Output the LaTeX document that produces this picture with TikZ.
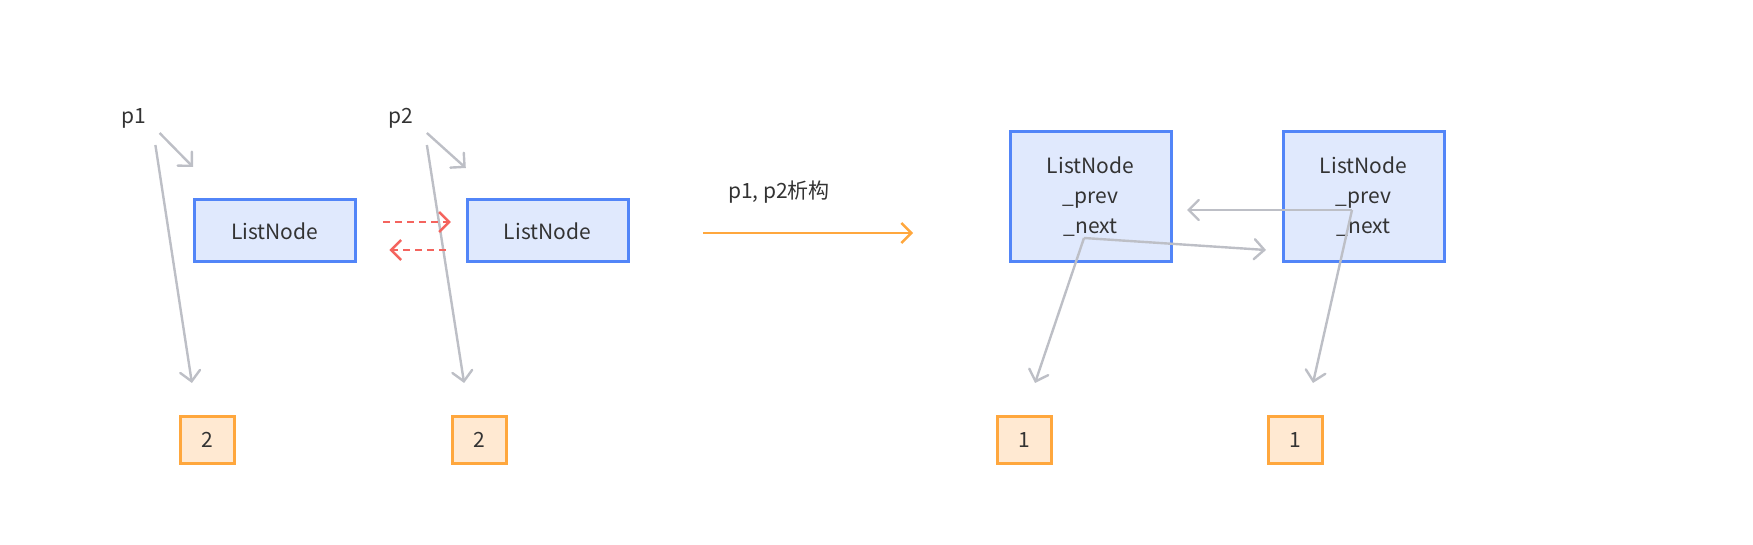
\documentclass[tikz,border=0pt]{standalone}
\usepackage{fontspec}
\setmainfont{Noto Sans CJK SC}
\usepackage{xcolor}
\usetikzlibrary{arrows.meta,positioning}

\definecolor{boxblue}{HTML}{5285F8}
\definecolor{boxbluefill}{HTML}{E0E9FD}
\definecolor{valorange}{HTML}{FFA73D}
\definecolor{valorangefill}{HTML}{FFE9D2}
\definecolor{ptrgray}{HTML}{BDBFC6}
\definecolor{swapred}{HTML}{F4645E}
\definecolor{txtgray}{HTML}{333333}

\begin{document}
\begin{tikzpicture}[x=0.5pt, y=-0.5pt, font=\fontsize{10.5pt}{15pt}\selectfont, text=txtgray,
  obj/.style={rectangle, draw=boxblue, fill=boxbluefill, line width=1.5pt, minimum width=80.5pt, minimum height=31pt, inner sep=0pt},
  objbig/.style={obj, minimum height=65pt, align=center},
  val/.style={rectangle, draw=valorange, fill=valorangefill, line width=1.5pt, minimum width=27pt, minimum height=23.5pt, inner sep=0pt},
  ptr/.style={draw=ptrgray, line width=1.2pt, -{Straight Barb[length=5pt, width=10pt, line cap=round]}},
  swap/.style={draw=swapred, line width=1.2pt, dash pattern=on 3.5pt off 2.5pt, -{Straight Barb[length=5pt, width=10pt]}},
  stepline/.style={draw=valorange, line width=1.2pt, -{Straight Barb[length=5pt, width=10pt]}}]

  \useasboundingbox (0,0) rectangle (1753,545);

  % before
  \node (p1) at (134,118) {p1};
  \node (p2) at (401,118) {p2};
  \node [obj] (ln1) at (274.6,231) {ListNode};
  \node [obj] (ln2) at (547.5,231) {ListNode};
  \node [val] (v1) at (207.8,440) {2};
  \node [val] (v2) at (479.7,440) {2};

  \coordinate (p1a) at (159.6,133);  \coordinate (p1b) at (193,167);
  \coordinate (p1c) at (155.4,145);  \coordinate (p1d) at (191.9,383);
  \coordinate (p2a) at (426.9,133);  \coordinate (p2b) at (465.8,168);
  \coordinate (p2c) at (426.9,145);  \coordinate (p2d) at (464.1,383);

  \path [ptr] (p1a) -- (p1b);
  \path [ptr] (p1c) -- (p1d);
  \path [ptr] (p2a) -- (p2b);
  \path [ptr] (p2c) -- (p2d);

  \coordinate (s1) at (383.4,222);  \coordinate (s2) at (450.8,222);
  \coordinate (s3) at (445.5,250);  \coordinate (s4) at (389.4,250);
  \path [swap] (s1) -- (s2);
  \path [swap] (s3) -- (s4);

  % destructor step
  \coordinate (st1) at (703,233);  \coordinate (st2) at (913,233);
  \node (stl) at (779,192) {p1, p2析构};
  \path [stepline] (st1) -- (st2);

  % after
  \node [objbig] (la) at (1090.5,197) {ListNode\\\_prev\\\_next};
  \node [objbig] (lb) at (1363.5,197) {ListNode\\\_prev\\\_next};
  \node [val] (v3) at (1024,440) {1};
  \node [val] (v4) at (1295,440) {1};

  \coordinate (anext) at (1084,238);  \coordinate (bprev) at (1352,210);
  \coordinate (aend) at (1187,210);   \coordinate (bend) at (1266,250);
  \coordinate (adown) at (1035,383);  \coordinate (bdown) at (1313,383);

  \path [ptr] (bprev) -- (aend);
  \path [ptr] (anext) -- (bend);
  \path [ptr] (anext) -- (adown);
  \path [ptr] (bprev) -- (bdown);
\end{tikzpicture}
\end{document}
